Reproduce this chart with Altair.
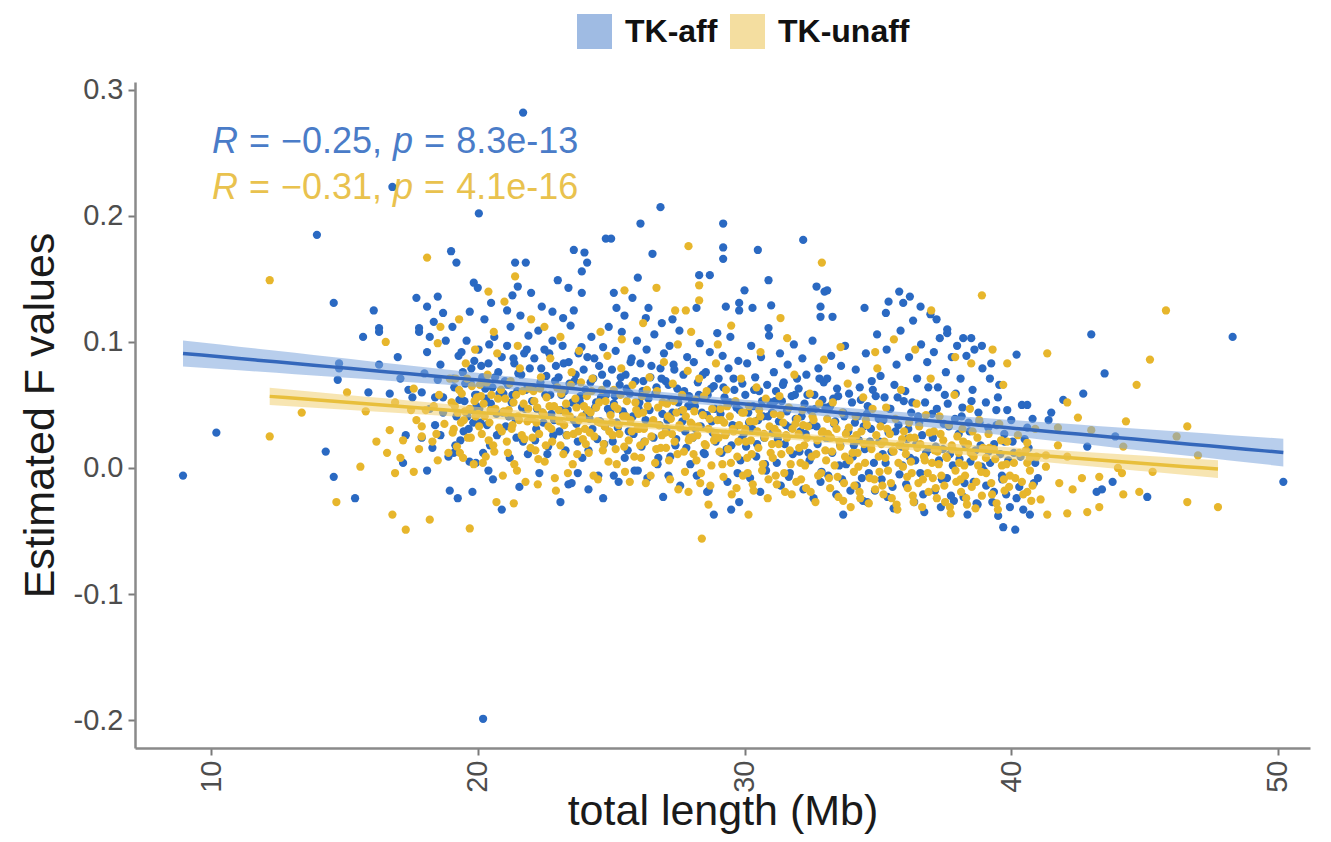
import altair as alt
import numpy as np
import pandas as pd

# ---------------- data ----------------
series_names = ["TK-aff", "TK-unaff"]

aff_pts = [
    # sparse / outlying points
    (8.95, -0.006), (10.2, 0.028), (13.97, 0.185), (14.6, 0.131), (14.8, 0.083), (14.8, 0.079),
    (14.75, 0.070), (14.3, 0.013), (14.6, -0.007), (15.4, -0.024), (15.7, 0.104), (16.3, 0.108),
    (16.1, 0.125), (16.3, 0.082), (16.3, 0.111), (16.8, 0.223), (15.9, 0.060), (16.7, 0.059),
    (17.0, 0.088), (17.1, 0.071), (17.2, 0.004), (17.3, 0.026), (17.4, 0.062), (17.55, 0.056),
    (17.7, 0.135), (17.8, 0.108), (17.8, 0.111), (17.9, 0.060), (17.9, 0.024), (18.1, 0.092),
    (18.1, 0.128), (18.1, -0.002), (18.2, 0.104), (18.3, 0.016), (18.4, 0.056), (18.4, 0.034),
    (18.5, 0.070), (18.5, 0.136), (18.6, 0.026), (18.7, 0.123), (18.7, 0.056), (18.7, 0.044),
    (19.0, 0.172), (19.2, 0.163), (19.85, 0.147), (20.0, 0.143), (19.7, 0.124), (20.04, 0.202),
    (21.7, 0.282), (21.4, 0.163), (21.8, 0.163), (21.5, 0.144), (22.0, 0.139), (21.1, 0.125),
    (22.8, 0.124), (23.0, 0.149), (23.4, 0.143), (23.6, 0.173), (24.0, 0.171), (24.1, 0.163),
    (23.9, 0.156), (23.9, 0.139), (23.6, 0.125), (24.8, 0.182), (25.0, 0.182), (25.1, 0.139),
    (25.2, 0.127), (26.0, 0.151), (25.8, 0.135), (26.1, 0.194), (26.55, 0.170), (26.85, 0.207),
    (26.3, 0.119), (26.9, 0.115), (28.2, 0.127), (28.3, 0.153), (28.7, 0.153), (29.2, 0.194),
    (29.2, 0.175), (29.2, 0.166), (29.3, 0.128), (30.5, 0.173), (32.2, 0.181), (30.9, 0.149),
    (30.0, 0.141), (32.7, 0.144), (33.0, 0.140), (33.1, 0.141), (29.8, 0.131), (29.8, 0.125),
    (30.3, 0.127), (31.0, 0.129), (32.85, 0.128), (32.85, 0.120), (33.3, 0.120), (34.5, 0.127),
    (35.4, 0.132), (35.8, 0.140), (36.2, 0.136), (35.95, 0.131), (35.3, 0.123), (30.9, 0.111),
    (37.6, 0.110), (37.2, 0.118), (36.6, 0.128), (38.2, 0.103), (38.9, 0.097),
    (40.2, 0.090), (38.5, 0.103), (37.6, 0.107), (39.2, 0.071), (40.4, 0.050), (39.5, 0.056),
    (40.0, 0.038), (39.7, -0.047), (40.15, -0.049), (33.7, -0.037), (29.8, -0.027), (34.6, -0.027),
    (43.0, 0.106), (48.3, 0.104), (43.5, 0.075), (42.7, 0.059), (41.95, 0.054), (40.6, 0.050),
    (41.5, 0.044), (41.4, 0.038), (40.8, 0.039), (40.6, 0.032), (43.9, 0.025), (42.85, 0.017),
    (41.0, -0.008), (43.8, -0.011), (50.2, -0.011), (43.2, -0.019), (43.4, -0.017), (45.1, -0.023),
    (19.25, -0.024), (19.8, -0.019), (20.9, -0.033), (23.1, -0.027), (23.4, -0.013), (24.15, -0.017),
    (24.7, -0.024), (26.95, -0.023), (28.85, -0.037), (29.5, -0.033), (28.6, -0.019), (19.1, 0.012),
    (20.4, -0.002), (23.75, -0.004), (25.1, -0.006), (26.0, -0.002), (27.15, -0.006),
    (20.2, -0.199),
]

aff_dense = [
    (18.0, 0.075), (18.2, 0.047), (18.35, 0.116), (18.6, 0.082), (18.8, 0.101), (18.9, 0.009), (18.95, -0.018),
    (19.05, 0.112), (19.12, 0.064), (19.2, 0.041), (19.28, 0.089), (19.35, 0.022), (19.44, 0.076), (19.5, 0.053),
    (19.58, 0.101), (19.66, 0.031), (19.73, 0.068), (19.8, 0.046), (19.87, 0.085), (19.93, 0.004), (19.97, 0.058),
    (20.03, 0.094), (20.1, 0.036), (20.17, 0.072), (20.25, 0.118), (20.31, 0.055), (20.4, 0.083), (20.46, 0.018),
    (20.55, 0.064), (20.62, 0.104), (20.7, 0.043), (20.77, 0.076), (20.85, 0.029), (20.9, 0.088), (20.96, 0.059),
    (20.5, 0.131),
    (21.02, 0.069), (21.1, 0.097), (21.16, 0.041), (21.23, 0.112), (21.3, 0.058), (21.37, 0.083), (21.45, 0.024),
    (21.52, 0.075), (21.6, 0.121), (21.66, 0.048), (21.74, 0.091), (21.8, 0.062), (21.88, 0.011), (21.95, 0.079),
    (21.3, 0.137), (21.9, 0.105),
    (22.04, 0.053), (22.12, 0.087), (22.19, 0.031), (22.27, 0.109), (22.35, 0.068), (22.42, 0.044), (22.5, 0.094),
    (22.57, 0.073), (22.64, 0.017), (22.72, 0.058), (22.8, 0.101), (22.86, 0.038), (22.93, 0.081), (22.98, 0.064),
    (22.4, 0.128),
    (23.03, 0.072), (23.1, 0.046), (23.18, 0.097), (23.26, 0.061), (23.33, 0.026), (23.41, 0.084), (23.48, 0.113),
    (23.55, 0.052), (23.63, 0.069), (23.7, 0.035), (23.78, 0.091), (23.85, 0.057), (23.92, 0.008), (23.97, 0.078),
    (23.2, 0.119),
    (24.04, 0.062), (24.11, 0.088), (24.19, 0.039), (24.26, 0.104), (24.33, 0.071), (24.4, 0.048), (24.48, 0.023),
    (24.55, 0.081), (24.62, 0.056), (24.7, 0.096), (24.77, 0.033), (24.84, 0.067), (24.91, 0.112), (24.97, 0.044),
    (25.03, 0.078), (25.1, 0.051), (25.17, 0.093), (25.25, 0.032), (25.32, 0.066), (25.4, 0.108), (25.47, 0.043),
    (25.54, 0.074), (25.62, 0.014), (25.7, 0.059), (25.77, 0.087), (25.84, 0.027), (25.91, 0.069), (25.97, 0.101),
    (25.5, 0.121),
    (26.03, 0.047), (26.1, 0.083), (26.18, 0.061), (26.25, 0.021), (26.33, 0.094), (26.4, 0.055), (26.47, 0.072),
    (26.55, 0.036), (26.62, 0.106), (26.7, 0.064), (26.77, 0.008), (26.85, 0.079), (26.92, 0.043), (26.98, 0.091),
    (26.4, 0.127),
    (27.04, 0.069), (27.11, 0.038), (27.19, 0.097), (27.26, 0.054), (27.34, 0.082), (27.41, 0.018), (27.48, 0.063),
    (27.56, 0.109), (27.63, 0.045), (27.71, 0.074), (27.78, 0.029), (27.85, 0.088), (27.92, 0.057), (27.97, 0.003),
    (27.3, 0.118),
    (28.03, 0.052), (28.1, 0.084), (28.17, 0.031), (28.25, 0.068), (28.32, 0.099), (28.4, 0.044), (28.47, 0.012),
    (28.55, 0.076), (28.62, 0.058), (28.7, 0.092), (28.77, 0.037), (28.85, 0.065), (28.92, 0.021), (28.98, 0.107),
    (29.03, 0.071), (29.1, 0.043), (29.18, 0.089), (29.25, 0.056), (29.33, 0.015), (29.4, 0.079), (29.47, 0.104),
    (29.55, 0.034), (29.62, 0.062), (29.7, 0.048), (29.77, 0.085), (29.85, 0.006), (29.92, 0.067), (29.97, 0.027),
    (30.03, 0.058), (30.1, 0.083), (30.17, 0.036), (30.25, 0.097), (30.32, 0.049), (30.4, 0.072), (30.47, 0.019),
    (30.55, 0.061), (30.62, 0.088), (30.7, 0.041), (30.77, 0.003), (30.85, 0.066), (30.92, 0.105), (30.97, 0.052),
    (31.03, 0.044), (31.1, 0.076), (31.18, 0.061), (31.25, 0.023), (31.33, 0.091), (31.4, 0.053), (31.47, 0.068),
    (31.55, 0.034), (31.62, 0.082), (31.7, -0.004), (31.77, 0.057), (31.85, 0.098), (31.92, 0.039), (31.97, 0.071),
    (32.03, 0.063), (32.1, 0.029), (32.17, 0.087), (32.25, 0.051), (32.32, 0.074), (32.4, 0.012), (32.47, 0.046),
    (32.55, 0.101), (32.62, 0.058), (32.7, 0.033), (32.77, 0.079), (32.85, -0.011), (32.92, 0.054), (32.97, 0.068),
    (33.03, 0.048), (33.1, 0.071), (33.18, 0.024), (33.25, 0.089), (33.33, 0.055), (33.4, 0.037), (33.47, 0.063),
    (33.55, 0.002), (33.62, 0.081), (33.7, 0.044), (33.77, 0.097), (33.85, 0.028), (33.92, 0.059), (33.97, -0.018),
    (34.03, 0.052), (34.1, 0.018), (34.17, 0.078), (34.25, 0.041), (34.32, 0.064), (34.4, -0.008), (34.47, 0.033),
    (34.55, 0.091), (34.62, 0.049), (34.7, 0.021), (34.77, 0.069), (34.85, 0.004), (34.92, 0.057), (34.97, 0.106),
    (35.03, 0.039), (35.1, 0.073), (35.18, 0.011), (35.25, 0.056), (35.33, 0.094), (35.4, 0.028), (35.47, 0.047),
    (35.55, -0.015), (35.62, 0.066), (35.7, 0.082), (35.77, 0.034), (35.85, 0.109), (35.92, 0.002), (35.97, 0.053),
    (36.03, 0.061), (36.1, 0.023), (36.17, 0.088), (36.25, 0.044), (36.32, 0.117), (36.4, 0.006), (36.47, 0.071),
    (36.55, 0.036), (36.62, 0.098), (36.7, -0.021), (36.77, 0.052), (36.85, 0.084), (36.92, 0.015), (36.97, 0.122),
    (37.03, 0.043), (37.1, 0.092), (37.17, 0.017), (37.25, 0.064), (37.32, 0.103), (37.4, -0.009), (37.47, 0.035),
    (37.55, 0.076), (37.62, 0.051), (37.7, 0.011), (37.77, 0.088), (37.85, -0.026), (37.92, 0.059), (37.97, 0.097),
    (38.03, 0.027), (38.1, 0.071), (38.17, 0.048), (38.25, -0.012), (38.32, 0.089), (38.4, 0.036), (38.47, 0.005),
    (38.55, 0.062), (38.62, 0.094), (38.7, -0.028), (38.77, 0.044), (38.85, 0.018), (38.92, 0.079), (38.97, -0.002),
    (39.05, 0.052), (39.15, 0.013), (39.25, 0.083), (39.35, -0.019), (39.45, 0.034), (39.55, 0.066), (39.65, -0.006),
    (39.75, 0.021), (39.85, 0.046), (39.95, -0.031),
    (40.1, 0.012), (40.3, -0.015), (40.5, 0.023), (40.7, -0.037), (40.9, 0.004),
]

aff_dense_low = [
    (19.08, 0.071), (19.16, 0.018), (19.31, 0.054), (19.39, 0.092), (19.47, 0.029), (19.53, 0.067),
    (19.61, 0.041), (19.69, 0.005), (19.76, 0.079), (19.83, 0.036), (19.9, 0.058), (19.95, 0.049),
    (20.06, 0.047), (20.13, 0.081), (20.2, 0.012), (20.28, 0.063), (20.35, 0.034), (20.43, 0.098),
    (20.49, 0.051), (20.57, -0.009), (20.65, 0.072), (20.72, 0.026), (20.81, 0.059), (20.93, 0.044),
    (21.05, 0.033), (21.13, 0.066), (21.2, 0.008), (21.27, 0.052), (21.34, 0.087), (21.41, 0.039),
    (21.48, 0.061), (21.56, -0.015), (21.63, 0.074), (21.7, 0.021), (21.77, 0.047), (21.84, 0.094),
    (22.07, 0.064), (22.15, 0.022), (22.22, 0.047), (22.31, -0.004), (22.38, 0.079), (22.46, 0.036),
    (22.53, 0.058), (22.61, 0.011), (22.68, 0.091), (22.76, 0.043), (22.83, 0.026), (22.9, 0.069),
    (23.06, 0.029), (23.14, 0.058), (23.22, 0.083), (23.29, 0.014), (23.37, 0.046), (23.44, 0.067),
    (23.52, -0.012), (23.6, 0.038), (23.67, 0.074), (23.75, 0.021), (23.82, 0.053), (23.89, 0.096),
    (24.07, 0.043), (24.15, 0.014), (24.23, 0.068), (24.3, 0.031), (24.37, 0.087), (24.44, 0.052),
    (24.52, -0.006), (24.59, 0.037), (24.66, 0.074), (24.74, 0.019), (24.81, 0.058), (24.88, 0.047),
    (25.06, 0.021), (25.14, 0.057), (25.21, 0.036), (25.28, -0.011), (25.36, 0.072), (25.43, 0.045),
    (25.51, 0.008), (25.58, 0.063), (25.66, 0.029), (25.73, 0.084), (25.81, 0.041), (25.88, -0.002),
    (26.06, 0.052), (26.14, 0.017), (26.21, 0.069), (26.29, 0.038), (26.36, -0.008), (26.44, 0.046),
    (26.51, 0.081), (26.59, 0.024), (26.66, 0.059), (26.74, 0.003), (26.81, 0.034), (26.89, 0.071),
    (27.07, 0.031), (27.15, 0.066), (27.22, 0.009), (27.3, 0.044), (27.37, 0.078), (27.44, 0.023),
    (27.52, 0.052), (27.59, -0.014), (27.67, 0.037), (27.74, 0.061), (27.82, 0.016), (27.89, 0.049),
    (28.06, 0.024), (28.14, 0.049), (28.21, -0.006), (28.29, 0.058), (28.36, 0.033), (28.44, 0.074),
    (28.51, 0.011), (28.59, 0.042), (28.66, -0.018), (28.74, 0.063), (28.81, 0.028), (28.89, 0.047),
    (29.06, 0.039), (29.14, 0.012), (29.21, 0.064), (29.29, 0.027), (29.36, -0.011), (29.44, 0.052),
    (29.51, 0.018), (29.59, 0.071), (29.66, 0.033), (29.74, -0.004), (29.81, 0.046), (29.89, 0.023),
    (30.06, 0.017), (30.14, 0.044), (30.21, -0.008), (30.29, 0.031), (30.36, 0.062), (30.44, 0.009),
    (30.51, 0.038), (30.59, -0.019), (30.66, 0.053), (30.74, 0.024), (30.81, -0.002), (30.89, 0.041),
    (31.06, 0.028), (31.14, 0.053), (31.21, 0.004), (31.29, 0.037), (31.36, -0.014), (31.44, 0.066),
    (31.51, 0.019), (31.59, 0.045), (31.66, -0.007), (31.74, 0.032), (31.81, 0.011), (31.89, 0.058),
    (32.06, 0.013), (32.14, 0.041), (32.21, -0.017), (32.29, 0.027), (32.36, 0.058), (32.44, 0.006),
    (32.51, 0.034), (32.59, -0.024), (32.66, 0.047), (32.74, 0.019), (32.81, 0.071), (32.89, -0.003),
    (33.06, 0.024), (33.14, -0.006), (33.21, 0.049), (33.29, 0.012), (33.36, 0.035), (33.44, -0.021),
    (33.51, 0.057), (33.59, 0.018), (33.66, -0.009), (33.74, 0.041), (33.81, 0.003), (33.89, 0.029),
    (34.06, 0.009), (34.14, 0.036), (34.21, -0.014), (34.29, 0.022), (34.36, 0.054), (34.44, -0.026),
    (34.51, 0.015), (34.59, 0.043), (34.66, -0.004), (34.74, 0.031), (34.81, 0.062), (34.89, -0.018),
    (35.06, 0.021), (35.14, -0.009), (35.21, 0.038), (35.29, 0.004), (35.36, -0.023), (35.44, 0.047),
    (35.51, 0.013), (35.59, -0.032), (35.66, 0.029), (35.74, 0.056), (35.81, -0.005), (35.89, 0.017),
    (36.06, -0.013), (36.14, 0.031), (36.21, 0.008), (36.29, 0.052), (36.36, -0.027), (36.44, 0.019),
    (36.51, 0.041), (36.59, -0.004), (36.66, 0.026), (36.74, -0.035), (36.81, 0.012), (36.89, 0.064),
    (37.06, 0.024), (37.14, -0.018), (37.21, 0.047), (37.29, 0.006), (37.36, -0.031), (37.44, 0.015),
    (37.51, 0.058), (37.59, -0.008), (37.66, 0.033), (37.74, -0.022), (37.81, 0.002), (37.89, 0.039),
    (38.06, 0.007), (38.14, 0.041), (38.21, -0.023), (38.29, 0.018), (38.36, -0.037), (38.44, 0.029),
    (38.51, 0.053), (38.59, -0.011), (38.66, 0.014), (38.74, -0.029), (38.81, 0.036), (38.89, 0.001),
    (39.06, -0.014), (39.14, 0.032), (39.21, 0.004), (39.29, -0.027), (39.36, 0.019), (39.44, 0.046),
    (39.51, -0.038), (39.59, 0.011), (39.66, -0.009), (39.74, 0.027), (39.81, -0.021), (39.89, 0.006),
    (40.05, 0.021), (40.2, -0.024), (40.35, 0.009), (40.45, -0.033), (40.65, 0.016), (40.85, -0.012),
]

unaff_pts = [
    # sparse / outlying points
    (12.2, 0.149), (18.1, 0.167), (13.4, 0.044), (12.2, 0.025), (15.1, 0.060), (16.55, 0.100),
    (17.6, 0.063), (17.5, 0.046), (16.7, 0.030), (17.9, 0.033), (17.9, 0.025), (17.2, 0.022),
    (16.6, 0.012), (18.5, 0.006), (18.5, 0.099), (15.6, 0.001), (16.9, -0.004), (17.6, -0.003),
    (14.7, -0.027), (16.8, -0.037), (18.2, -0.041), (17.3, -0.049),
    (27.9, 0.176), (21.4, 0.152), (20.4, 0.140), (26.7, 0.143), (28.3, 0.145), (25.5, 0.141),
    (28.3, 0.133), (21.0, 0.132), (27.4, 0.125), (27.8, 0.125),
    (32.9, 0.163), (31.35, 0.119), (37.0, 0.125), (38.9, 0.137), (45.8, 0.125),
    (39.85, 0.083), (39.3, 0.094), (39.7, 0.066), (30.15, -0.037),
    (41.35, 0.091), (45.2, 0.086), (44.7, 0.066), (42.1, 0.052), (42.5, 0.040), (44.3, 0.037),
    (46.6, 0.033), (41.75, 0.032), (43.0, 0.030), (46.2, 0.025), (44.2, 0.017), (47.0, 0.010),
    (40.6, 0.020), (41.75, 0.018), (41.3, 0.010), (42.1, 0.009), (40.7, 0.008), (40.7, -0.002),
    (41.3, 0.001), (43.3, -0.007), (42.65, -0.008), (44.0, 0.000), (44.15, -0.004), (45.3, -0.003),
    (41.8, -0.012), (42.3, -0.017), (40.6, -0.019), (41.1, -0.025), (44.2, -0.021), (44.8, -0.019),
    (46.6, -0.027), (47.75, -0.031), (43.3, -0.031), (42.85, -0.035), (42.1, -0.036), (41.35, -0.037),
    (19.7, -0.048), (20.7, -0.027), (21.35, -0.028), (22.25, -0.013), (28.4, -0.056), (27.9, -0.019),
    (28.65, -0.029),
    (18.6, 0.112), (19.3, 0.118), (19.9, 0.094), (22.0, 0.118), (23.1, 0.104), (23.8, 0.093),
    (24.6, 0.108), (26.2, 0.115), (28.0, 0.108), (29.0, 0.098), (29.5, 0.113), (30.6, 0.092),
    (31.6, 0.103), (33.6, 0.096), (34.9, 0.092), (35.6, 0.102), (36.4, 0.094), (37.9, 0.088),
    (38.5, 0.083),
    (15.8, 0.045), (16.2, 0.021), (16.9, 0.052), (17.1, 0.008), (17.7, 0.038), (17.8, 0.015),
    (18.35, 0.049), (18.45, 0.027),
]

unaff_dense = [
    (18.05, 0.046), (18.3, 0.021), (18.55, 0.058), (18.75, 0.035), (18.9, 0.012), (18.95, 0.071),
    (19.02, 0.052), (19.1, 0.031), (19.17, 0.071), (19.25, 0.044), (19.33, 0.012), (19.4, 0.059), (19.48, 0.038),
    (19.55, 0.083), (19.63, 0.024), (19.7, 0.047), (19.78, 0.065), (19.85, 0.003), (19.92, 0.041), (19.97, 0.056),
    (20.02, 0.043), (20.08, 0.066), (20.15, 0.027), (20.22, 0.051), (20.3, 0.009), (20.37, 0.074), (20.44, 0.036),
    (20.51, 0.058), (20.58, 0.018), (20.66, 0.047), (20.73, 0.091), (20.8, 0.032), (20.87, 0.062), (20.94, -0.006),
    (20.98, 0.045), (20.6, 0.108),
    (21.03, 0.055), (21.09, 0.021), (21.16, 0.046), (21.23, 0.069), (21.3, 0.034), (21.37, 0.003), (21.44, 0.058),
    (21.51, 0.041), (21.58, 0.079), (21.65, 0.026), (21.72, 0.051), (21.79, -0.011), (21.86, 0.037), (21.93, 0.063),
    (21.98, 0.016), (21.5, 0.097),
    (22.02, 0.039), (22.09, 0.061), (22.16, 0.014), (22.23, 0.048), (22.3, 0.027), (22.37, 0.072), (22.44, 0.044),
    (22.51, 0.005), (22.58, 0.056), (22.65, 0.033), (22.72, 0.087), (22.79, 0.021), (22.86, 0.049), (22.93, -0.018),
    (22.98, 0.064), (22.5, 0.112),
    (23.03, 0.046), (23.1, 0.018), (23.17, 0.062), (23.24, 0.034), (23.31, 0.051), (23.38, -0.004), (23.45, 0.041),
    (23.52, 0.076), (23.59, 0.027), (23.66, 0.055), (23.73, 0.011), (23.8, 0.038), (23.87, 0.068), (23.94, 0.023),
    (23.98, 0.049),
    (24.02, 0.031), (24.09, 0.057), (24.16, 0.012), (24.23, 0.044), (24.3, 0.071), (24.37, 0.025), (24.44, 0.048),
    (24.51, -0.009), (24.58, 0.036), (24.65, 0.062), (24.72, 0.019), (24.79, 0.053), (24.86, 0.089), (24.93, 0.029),
    (24.98, 0.042),
    (25.03, 0.036), (25.1, 0.062), (25.17, 0.015), (25.24, 0.047), (25.31, 0.027), (25.38, 0.079), (25.45, 0.041),
    (25.52, -0.003), (25.59, 0.053), (25.66, 0.022), (25.73, 0.038), (25.8, 0.066), (25.87, 0.009), (25.94, 0.046),
    (25.98, 0.031), (25.4, 0.102),
    (26.02, 0.043), (26.09, 0.018), (26.16, 0.057), (26.23, 0.031), (26.3, -0.012), (26.37, 0.049), (26.44, 0.072),
    (26.51, 0.025), (26.58, 0.038), (26.65, 0.004), (26.72, 0.061), (26.79, 0.034), (26.86, 0.016), (26.93, 0.052),
    (26.98, 0.084),
    (27.03, 0.028), (27.1, 0.051), (27.17, 0.006), (27.24, 0.039), (27.31, 0.067), (27.38, 0.021), (27.45, 0.044),
    (27.52, -0.017), (27.59, 0.032), (27.66, 0.058), (27.73, 0.013), (27.8, 0.041), (27.87, 0.077), (27.94, 0.024),
    (27.98, 0.036), (27.5, 0.098),
    (28.02, 0.035), (28.09, 0.011), (28.16, 0.054), (28.23, 0.026), (28.3, 0.071), (28.37, -0.004), (28.44, 0.042),
    (28.51, 0.019), (28.58, 0.061), (28.65, 0.031), (28.72, -0.014), (28.79, 0.047), (28.86, 0.022), (28.93, 0.083),
    (28.98, 0.038),
    (29.03, 0.024), (29.1, 0.047), (29.17, 0.003), (29.24, 0.036), (29.31, 0.062), (29.38, 0.015), (29.45, 0.041),
    (29.52, -0.021), (29.59, 0.029), (29.66, 0.053), (29.73, 0.009), (29.8, 0.034), (29.87, 0.071), (29.94, -0.006),
    (29.98, 0.044),
    (30.03, 0.031), (30.1, 0.008), (30.17, 0.049), (30.24, 0.022), (30.31, -0.013), (30.38, 0.037), (30.45, 0.064),
    (30.52, 0.016), (30.59, 0.041), (30.66, -0.002), (30.73, 0.027), (30.8, 0.055), (30.87, -0.024), (30.94, 0.033),
    (30.98, 0.012),
    (31.03, 0.019), (31.1, 0.043), (31.17, -0.006), (31.24, 0.028), (31.31, 0.057), (31.38, 0.011), (31.45, 0.036),
    (31.52, -0.019), (31.59, 0.024), (31.66, 0.048), (31.73, 0.003), (31.8, 0.031), (31.87, 0.074), (31.94, -0.011),
    (31.98, 0.039),
    (32.03, 0.027), (32.1, 0.004), (32.17, 0.046), (32.24, 0.018), (32.31, -0.016), (32.38, 0.033), (32.45, 0.059),
    (32.52, 0.009), (32.59, 0.038), (32.66, -0.027), (32.73, 0.022), (32.8, 0.051), (32.87, -0.004), (32.94, 0.029),
    (32.98, 0.086),
    (33.03, 0.014), (33.1, 0.039), (33.17, -0.008), (33.24, 0.024), (33.31, 0.052), (33.38, 0.002), (33.45, 0.031),
    (33.52, -0.023), (33.59, 0.017), (33.66, 0.044), (33.73, -0.012), (33.8, 0.027), (33.87, 0.067), (33.94, 0.006),
    (33.98, -0.031),
    (34.03, 0.023), (34.1, -0.003), (34.17, 0.041), (34.24, 0.012), (34.31, -0.019), (34.38, 0.029), (34.45, 0.056),
    (34.52, 0.004), (34.59, 0.034), (34.66, -0.028), (34.73, 0.018), (34.8, 0.047), (34.87, -0.009), (34.94, 0.026),
    (34.98, 0.079),
    (35.03, 0.009), (35.1, 0.033), (35.17, -0.014), (35.24, 0.021), (35.31, 0.048), (35.38, -0.002), (35.45, 0.027),
    (35.52, -0.024), (35.59, 0.013), (35.66, 0.039), (35.73, -0.033), (35.8, 0.018), (35.87, 0.062), (35.94, 0.001),
    (35.98, 0.029),
    (36.03, 0.016), (36.1, -0.007), (36.17, 0.036), (36.24, 0.005), (36.31, -0.022), (36.38, 0.024), (36.45, 0.051),
    (36.52, -0.012), (36.59, 0.019), (36.66, -0.031), (36.73, 0.009), (36.8, 0.042), (36.87, -0.004), (36.94, 0.028),
    (36.98, 0.071),
    (37.03, 0.004), (37.1, 0.029), (37.17, -0.016), (37.24, 0.013), (37.31, 0.041), (37.38, -0.006), (37.45, 0.022),
    (37.52, -0.027), (37.59, 0.008), (37.66, 0.034), (37.73, -0.036), (37.8, 0.015), (37.87, 0.058), (37.94, -0.011),
    (37.98, 0.025),
    (38.03, 0.012), (38.1, -0.009), (38.17, 0.031), (38.24, 0.002), (38.31, -0.024), (38.38, 0.019), (38.45, 0.047),
    (38.52, -0.015), (38.59, 0.009), (38.66, -0.032), (38.73, 0.024), (38.8, 0.038), (38.87, -0.003), (38.94, 0.016),
    (39.05, 0.008), (39.15, 0.027), (39.25, -0.012), (39.35, 0.015), (39.45, -0.028), (39.55, 0.035), (39.65, 0.002),
    (39.75, -0.018), (39.85, 0.021), (39.95, -0.006),
    (40.1, 0.004), (40.25, 0.026), (40.4, -0.011), (40.55, 0.014), (40.75, -0.026), (40.9, 0.031),
]

unaff_dense_low = [
    (19.06, 0.028), (19.14, 0.049), (19.22, 0.017), (19.3, 0.062), (19.37, 0.036), (19.45, 0.008), (19.52, 0.045),
    (19.6, 0.071), (19.74, 0.024), (19.88, 0.053),
    (20.05, 0.033), (20.12, 0.057), (20.19, 0.004), (20.26, 0.041), (20.34, 0.068), (20.41, 0.022), (20.48, 0.046),
    (20.62, 0.013), (20.76, 0.055), (20.9, 0.029),
    (21.06, 0.044), (21.13, 0.012), (21.2, 0.067), (21.27, 0.031), (21.34, 0.052), (21.47, -0.002), (21.55, 0.038),
    (21.68, 0.061), (21.75, 0.023), (21.89, 0.047),
    (22.05, 0.024), (22.12, 0.053), (22.2, 0.036), (22.27, 0.007), (22.34, 0.063), (22.48, 0.042), (22.55, 0.018),
    (22.69, 0.049), (22.76, 0.031), (22.89, -0.008),
    (23.06, 0.037), (23.13, 0.059), (23.21, 0.011), (23.28, 0.044), (23.35, 0.026), (23.49, 0.066), (23.56, 0.003),
    (23.7, 0.048), (23.77, 0.029), (23.91, 0.041),
    (24.05, 0.019), (24.12, 0.046), (24.2, 0.028), (24.27, 0.061), (24.34, -0.006), (24.48, 0.037), (24.55, 0.052),
    (24.69, 0.014), (24.76, 0.033), (24.9, 0.005),
    (25.06, 0.026), (25.13, 0.049), (25.21, 0.003), (25.28, 0.034), (25.35, 0.058), (25.49, 0.017), (25.56, 0.041),
    (25.7, -0.011), (25.77, 0.029), (25.91, 0.052),
    (26.05, 0.031), (26.12, 0.008), (26.2, 0.044), (26.27, 0.021), (26.34, 0.062), (26.48, -0.006), (26.55, 0.036),
    (26.69, 0.015), (26.76, 0.048), (26.9, 0.026),
    (27.06, 0.016), (27.13, 0.041), (27.21, -0.009), (27.28, 0.027), (27.35, 0.053), (27.49, 0.011), (27.56, 0.034),
    (27.7, 0.046), (27.77, -0.003), (27.91, 0.022),
    (28.05, 0.024), (28.12, 0.045), (28.2, 0.006), (28.27, 0.033), (28.34, -0.012), (28.48, 0.057), (28.55, 0.018),
    (28.69, 0.039), (28.76, 0.002), (28.9, 0.027),
    (29.06, 0.013), (29.13, 0.038), (29.21, -0.007), (29.28, 0.026), (29.35, 0.049), (29.49, 0.004), (29.56, 0.031),
    (29.7, -0.016), (29.77, 0.021), (29.91, 0.044),
    (30.05, 0.021), (30.12, -0.004), (30.2, 0.037), (30.27, 0.011), (30.34, -0.018), (30.48, 0.029), (30.55, 0.046),
    (30.69, 0.003), (30.76, 0.024), (30.9, -0.009),
    (31.06, 0.008), (31.13, 0.031), (31.21, -0.013), (31.28, 0.019), (31.35, 0.042), (31.49, -0.004), (31.56, 0.026),
    (31.7, 0.014), (31.77, -0.021), (31.91, 0.035),
    (32.05, 0.016), (32.12, -0.009), (32.2, 0.034), (32.27, 0.002), (32.34, 0.024), (32.48, -0.019), (32.55, 0.041),
    (32.69, 0.011), (32.76, -0.006), (32.9, 0.028),
    (33.06, 0.006), (33.13, 0.027), (33.21, -0.016), (33.28, 0.013), (33.35, 0.036), (33.49, -0.007), (33.56, 0.021),
    (33.7, -0.026), (33.77, 0.009), (33.91, 0.032),
    (34.05, 0.012), (34.12, -0.014), (34.2, 0.026), (34.27, 0.001), (34.34, -0.024), (34.48, 0.019), (34.55, 0.038),
    (34.69, -0.008), (34.76, 0.015), (34.9, -0.017),
    (35.06, -0.003), (35.13, 0.019), (35.21, -0.021), (35.28, 0.008), (35.35, 0.031), (35.49, -0.012), (35.56, 0.014),
    (35.7, -0.029), (35.77, 0.004), (35.91, 0.023),
    (36.05, 0.011), (36.12, -0.016), (36.2, 0.024), (36.27, -0.004), (36.34, -0.027), (36.48, 0.016), (36.55, 0.033),
    (36.69, -0.009), (36.76, 0.006), (36.9, -0.019),
    (37.06, -0.008), (37.13, 0.014), (37.21, -0.024), (37.28, 0.003), (37.35, 0.027), (37.49, -0.014), (37.56, 0.009),
    (37.7, -0.031), (37.77, 0.018), (37.91, -0.002),
    (38.05, 0.004), (38.12, -0.019), (38.2, 0.021), (38.27, -0.006), (38.34, -0.029), (38.48, 0.012), (38.55, 0.029),
    (38.69, -0.011), (38.76, 0.002), (38.9, -0.022),
    (39.06, -0.004), (39.18, 0.016), (39.28, -0.021), (39.4, 0.007), (39.5, -0.033), (39.62, 0.022), (39.72, -0.009),
    (39.82, 0.003), (39.92, -0.015),
    (40.15, -0.008), (40.3, 0.012), (40.45, -0.021), (40.6, 0.004), (40.8, -0.014), (40.95, 0.009),
]

# annotation pieces: (text, italic?)
annot_line1 = [("R", True), ("=", False), ("\u22120.25,", False), ("p", True), ("=", False), ("8.3e-13", False)]
annot_line2 = [("R", True), ("=", False), ("\u22120.31,", False), ("p", True), ("=", False), ("4.1e-16", False)]

x_ticks = [10, 20, 30, 40, 50]
y_ticks = [-0.2, -0.1, 0.0, 0.1, 0.2, 0.3]

# ---------------- styles ----------------
point_colors = ["#2a69c2", "#e7b62c"]
line_colors = ["#3467bb", "#e8bf3c"]
band_colors = ["#7ea6dd", "#f0d073"]
text_colors = ["#4a7cc8", "#e9c24e"]
FONT = "Liberation Sans"
AX = "#4d4d4d"

X_DOM = [7.15, 51.2]
Y_DOM = [-0.2222, 0.3063]

# ---------------- tables ----------------
aff_all = aff_pts + aff_dense + aff_dense_low
unaff_all = unaff_pts + unaff_dense + unaff_dense_low

df_pts = pd.concat([
    pd.DataFrame({"x": [p[0] for p in pts], "y": [p[1] for p in pts], "group": name})
    for name, pts in zip(series_names, [aff_all, unaff_all])
], ignore_index=True)


def fit_table(pts):
    x = np.array([p[0] for p in pts])
    y = np.array([p[1] for p in pts])
    b1, b0 = np.polyfit(x, y, 1)
    n = len(x)
    resid = y - (b0 + b1 * x)
    s = np.sqrt((resid ** 2).sum() / (n - 2))
    xs = np.linspace(x.min(), x.max(), 60)
    se = s * np.sqrt(1.0 / n + (xs - x.mean()) ** 2 / ((x - x.mean()) ** 2).sum())
    fit = b0 + b1 * xs
    return pd.DataFrame({"x": xs, "fit": fit, "lo": fit - 1.96 * se, "hi": fit + 1.96 * se})


fits = [fit_table(aff_all), fit_table(unaff_all)]

xs = alt.Scale(domain=X_DOM, nice=False, zero=False)
ys = alt.Scale(domain=Y_DOM, nice=False, zero=False)

x_axis = alt.Axis(values=x_ticks, format="d", labelAngle=270, labelAlign="right", labelBaseline="middle",
                  labelFontSize=29, labelColor=AX, labelFont=FONT, labelPadding=5,
                  tickColor="#7a7a7a", tickWidth=2, tickSize=7, domainColor="#8a8a8a", domainWidth=2.5,
                  grid=False, title="total length (Mb)", titleFontSize=43, titleFont=FONT,
                  titleFontWeight="normal", titleColor="#1a1a1a", titleBaseline="alphabetic",
                  titleY=76)
y_axis = alt.Axis(values=y_ticks, labelExpr="datum.value < 0 ? '-' + format(-datum.value, '.1f') : format(datum.value, '.1f')",
                  labelFontSize=29, labelColor=AX, labelFont=FONT, labelPadding=5,
                  tickColor="#7a7a7a", tickWidth=2, tickSize=7, domainColor="#8a8a8a", domainWidth=2.5,
                  grid=False, title="Estimated F values", titleFontSize=43, titleFont=FONT,
                  titleFontWeight="normal", titleColor="#1a1a1a", titlePadding=11)

points = alt.Chart(df_pts).mark_circle(size=68, opacity=1).encode(
    x=alt.X("x:Q", scale=xs, axis=x_axis),
    y=alt.Y("y:Q", scale=ys, axis=y_axis),
    color=alt.Color("group:N", scale=alt.Scale(domain=series_names, range=point_colors),
                    legend=alt.Legend(title=None, orient="none", legendX=442, legendY=-68,
                                      direction="horizontal", symbolType="square", symbolSize=1225,
                                      symbolOpacity=0.45, symbolStrokeWidth=0, labelFontSize=32,
                                      labelFontWeight="bold", labelFont=FONT, labelColor="#111111",
                                      labelOffset=13, columnPadding=12, padding=0)),
)

layers = [points]
for i, f in enumerate(fits):
    band = alt.Chart(f).mark_area(opacity=0.55, color=band_colors[i]).encode(
        x=alt.X("x:Q", scale=xs), y=alt.Y("lo:Q", scale=ys), y2="hi:Q")
    line = alt.Chart(f).mark_line(strokeWidth=3.5, color=line_colors[i]).encode(
        x=alt.X("x:Q", scale=xs), y=alt.Y("fit:Q", scale=ys))
    layers += [band, line]

# annotation: pieces laid out left to right with Arial advance widths (em) + math spacing
TS = 36
GAP = 11
ADV = {"R": 0.722, "p": 0.556, "=": 0.584, "\u2212": 0.584, ".": 0.278, ",": 0.278, "-": 0.333, "e": 0.556}


def piece_width(s):
    return sum(ADV.get(ch, 0.556) for ch in s) * TS


x0 = 77
for i, pieces in enumerate([annot_line1, annot_line2]):
    yb = 71 + 46 * i
    xp = x0
    for txt, italic in pieces:
        layers.append(
            alt.Chart(pd.DataFrame({"t": [txt]})).mark_text(
                align="left", baseline="alphabetic", fontSize=TS, font=FONT,
                fontStyle="italic" if italic else "normal",
                color=text_colors[i]).encode(x=alt.value(xp), y=alt.value(yb), text="t:N"))
        xp += piece_width(txt) + GAP

chart = alt.layer(*layers).properties(
    width=1175, height=666,
    autosize=alt.AutoSizeParams(type="none"),
    padding={"left": 127, "top": 74, "right": 8, "bottom": 86},
    background="white",
).configure_view(stroke=None)

chart.save("out.html", embed_options={"renderer": "svg", "actions": False})
